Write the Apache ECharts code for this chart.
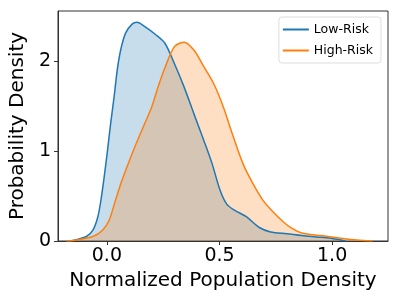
<!DOCTYPE html>
<html><head><meta charset="utf-8">
<script src="https://cdn.jsdelivr.net/npm/echarts@6/dist/echarts.min.js"></script>
<style>html,body{margin:0;padding:0;background:#fff}#c{width:399px;height:299px}</style>
</head><body><div id="c"></div>
<script>
const seriesNames = ['Low-Risk', 'High-Risk'];
const lowX = [-0.17, -0.15, -0.091, -0.062, -0.04, -0.026, -0.012, 0.003, 0.017, 0.032, 0.046, 0.061, 0.083, 0.112, 0.133, 0.17, 0.213, 0.257, 0.30, 0.343, 0.387, 0.43, 0.467, 0.503, 0.532, 0.568, 0.619, 0.677, 0.727, 0.80, 0.865, 0.93, 0.995, 1.06];
const lowY = [0.0, 0.005, 0.05, 0.12, 0.27, 0.46, 0.71, 1.01, 1.31, 1.60, 1.90, 2.12, 2.31, 2.41, 2.43, 2.38, 2.30, 2.20, 1.97, 1.71, 1.41, 1.12, 0.86, 0.56, 0.41, 0.34, 0.27, 0.15, 0.10, 0.08, 0.06, 0.045, 0.03, 0.0];
const highX = [-0.18, -0.15, -0.062, -0.019, 0.01, 0.039, 0.068, 0.112, 0.155, 0.199, 0.227, 0.257, 0.30, 0.343, 0.387, 0.43, 0.474, 0.517, 0.561, 0.604, 0.648, 0.691, 0.735, 0.78, 0.822, 0.865, 0.952, 1.04, 1.11, 1.18];
const highY = [0.0, 0.005, 0.05, 0.12, 0.23, 0.46, 0.68, 0.97, 1.23, 1.49, 1.71, 1.92, 2.16, 2.21, 2.12, 1.94, 1.75, 1.49, 1.16, 0.86, 0.64, 0.46, 0.33, 0.22, 0.14, 0.09, 0.06, 0.03, 0.01, 0.0];
const xTicks = [0.0, 0.5, 1.0];
const yTicks = [0, 1, 2];
const xTitle = 'Normalized Population Density';
const yTitle = 'Probability Density';

const pairs = (xs, ys) => xs.map((x, i) => [x, ys[i]]);
const colors = ['#1f77b4', '#ff7f0e'];
const font = 'DejaVu Sans';
const chart = echarts.init(document.getElementById('c'), null, {renderer: 'canvas'});
chart.setOption({
  animation: false,
  grid: {left: 51, right: 11, top: 11, bottom: 58, show: true, borderColor: '#333', borderWidth: 1},
  legend: {
    top: 17, right: 18, orient: 'vertical', itemWidth: 26, itemHeight: 2, itemGap: 8,
    backgroundColor: '#fff', borderColor: '#ddd', borderWidth: 1, borderRadius: 3, padding: [6, 8, 6, 4],
    textStyle: {fontFamily: font, fontSize: 12.5, color: '#000'},
    data: seriesNames.map(n => ({name: n, icon: 'rect'}))
  },
  xAxis: {
    type: 'value', min: -0.217, max: 1.248,
    name: xTitle, nameLocation: 'middle', nameGap: 27,
    nameTextStyle: {fontFamily: font, fontSize: 20, color: '#000'},
    axisLine: {show: true, onZero: false, lineStyle: {color: '#333'}},
    axisTick: {show: true, length: 4, customValues: xTicks, lineStyle: {color: '#333'}},
    axisLabel: {customValues: xTicks, formatter: v => v.toFixed(1), fontFamily: font, fontSize: 19, color: '#000', margin: 6},
    splitLine: {show: false}
  },
  yAxis: {
    type: 'value', min: 0, max: 2.556,
    name: yTitle, nameLocation: 'middle', nameGap: 23,
    nameTextStyle: {fontFamily: font, fontSize: 20, color: '#000'},
    axisLine: {show: true, onZero: false, lineStyle: {color: '#333'}},
    axisTick: {show: true, length: 4, customValues: yTicks, lineStyle: {color: '#333'}},
    axisLabel: {customValues: yTicks, formatter: v => String(v), fontFamily: font, fontSize: 19, color: '#000', margin: 7},
    splitLine: {show: false}
  },
  series: [
    {name: seriesNames[0], type: 'line', smooth: 0.3, symbol: 'none', data: pairs(lowX, lowY),
     lineStyle: {color: colors[0], width: 1.5}, itemStyle: {color: colors[0]}, areaStyle: {color: colors[0], opacity: 0.25}},
    {name: seriesNames[1], type: 'line', smooth: 0.3, symbol: 'none', data: pairs(highX, highY),
     lineStyle: {color: colors[1], width: 1.5}, itemStyle: {color: colors[1]}, areaStyle: {color: colors[1], opacity: 0.25}}
  ]
});
</script></body></html>
